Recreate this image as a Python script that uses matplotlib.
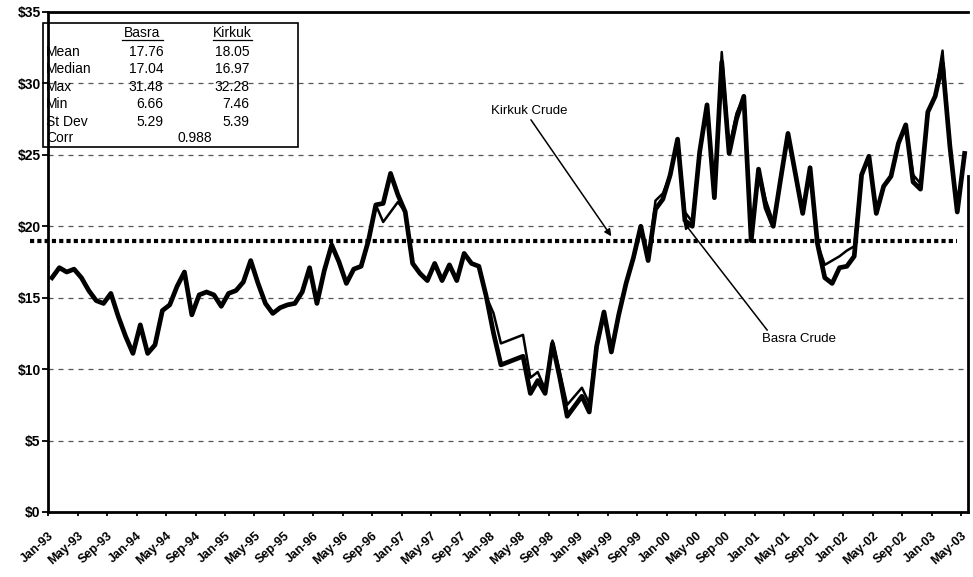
import matplotlib
matplotlib.use('Agg')
import matplotlib.pyplot as plt
from matplotlib.patches import Rectangle
from matplotlib.lines import Line2D

plt.rcParams['font.family'] = ['Liberation Sans', 'DejaVu Sans']

# ---------------- data (monthly, Jan-93 .. May-03) ----------------
kirkuk = [16.4, 17.1, 16.8, 17.0, 16.4, 15.5, 14.8, 14.6, 15.3, 13.7,
          12.3, 11.1, 13.1, 11.1, 11.7, 14.1, 14.5, 15.8, 16.8, 13.8,
          15.2, 15.4, 15.2, 14.4, 15.3, 15.5, 16.1, 17.6, 16.0, 14.6,
          13.9, 14.3, 14.5, 14.6, 15.4, 17.1, 14.6, 16.9, 18.7, 17.5,
          16.0, 17.0, 17.2, 19.0, 21.5, 20.3, 21.0, 21.7, 21.0, 17.4,
          16.7, 16.2, 17.4, 16.2, 17.3, 16.2, 18.1, 17.4, 17.2, 15.1,
          13.9, 11.8, 12.0, 12.2, 12.4, 9.4, 9.8, 8.6, 12.0, 9.8,
          7.5, 8.1, 8.7, 7.6, 11.8, 14.0, 11.2, 13.8, 16.0, 17.8,
          20.0, 17.6, 21.8, 22.3, 23.6, 26.1, 21.0, 20.3, 25.2, 28.5,
          22.0, 32.2, 25.5, 27.9, 29.1, 19.0, 24.0, 21.8, 20.3, 23.3,
          26.5, 23.7, 20.9, 24.1, 18.8, 17.3, 17.6, 17.9, 18.3, 18.6,
          23.6, 24.9, 20.9, 22.8, 23.5, 25.8, 27.1, 23.6, 23.0, 28.0,
          29.1, 32.3, 25.6, 21.0, 25.1]
basra = [16.4, 17.1, 16.8, 17.0, 16.4, 15.5, 14.8, 14.6, 15.3, 13.7,
         12.3, 11.1, 13.1, 11.1, 11.7, 14.1, 14.5, 15.8, 16.8, 13.8,
         15.2, 15.4, 15.2, 14.4, 15.3, 15.5, 16.1, 17.6, 16.0, 14.6,
         13.9, 14.3, 14.5, 14.6, 15.4, 17.1, 14.6, 16.9, 18.7, 17.5,
         16.0, 17.0, 17.2, 19.0, 21.5, 21.6, 23.7, 22.2, 21.0, 17.4,
         16.7, 16.2, 17.4, 16.2, 17.3, 16.2, 18.1, 17.4, 17.2, 15.1,
         12.5, 10.3, 10.5, 10.7, 10.9, 8.3, 9.2, 8.3, 11.8, 9.4,
         6.7, 7.4, 8.1, 7.0, 11.6, 14.0, 11.2, 13.8, 16.0, 17.8,
         20.0, 17.6, 21.2, 21.9, 23.6, 26.1, 20.4, 20.0, 25.2, 28.5,
         22.0, 31.5, 25.1, 27.5, 29.1, 19.0, 24.0, 21.3, 20.0, 23.3,
         26.5, 23.7, 20.9, 24.1, 18.8, 16.4, 16.0, 17.1, 17.2, 17.9,
         23.6, 24.9, 20.9, 22.8, 23.5, 25.8, 27.1, 23.1, 22.6, 28.0,
         29.1, 31.4, 25.6, 21.0, 25.1]
ref_level = 19.0

x_tick_labels = ['Jan-93', 'May-93', 'Sep-93', 'Jan-94', 'May-94', 'Sep-94',
                 'Jan-95', 'May-95', 'Sep-95', 'Jan-96', 'May-96', 'Sep-96',
                 'Jan-97', 'May-97', 'Sep-97', 'Jan-98', 'May-98', 'Sep-98',
                 'Jan-99', 'May-99', 'Sep-99', 'Jan-00', 'May-00', 'Sep-00',
                 'Jan-01', 'May-01', 'Sep-01', 'Jan-02', 'May-02', 'Sep-02',
                 'Jan-03', 'May-03']
y_ticks = [0, 5, 10, 15, 20, 25, 30, 35]
y_tick_labels = ['\\$0', '\\$5', '\\$10', '\\$15', '\\$20', '\\$25', '\\$30', '\\$35']

stat_names = ['Mean', 'Median', 'Max', 'Min', 'St Dev']
basra_stats = ['17.76', '17.04', '31.48', '6.66', '5.29']
kirkuk_stats = ['18.05', '16.97', '32.28', '7.46', '5.39']
corr_value = '0.988'

# ---------------- figure ----------------
W, H = 973, 577
fig = plt.figure(figsize=(W / 100, H / 100), dpi=100)
fig.patch.set_facecolor('white')


def px(x, y):
    return (x / W, 1 - y / H)


ax = fig.add_axes([48.3 / W, 1 - 512 / H, 920 / W, 500 / H])
n = len(kirkuk)
xs = list(range(n))
ax.set_xlim(-0.5, n - 0.5)
ax.set_ylim(0, 35)

# gridlines
for yv in y_ticks[1:-1]:
    ax.axhline(yv, color='#555555', lw=0.9, dashes=(4, 4), zorder=1)

# reference dotted level
ax.plot([-3, 123], [ref_level, ref_level], color='black', lw=3.0,
        dashes=(1.0, 0.75), dash_capstyle='butt', clip_on=False, zorder=2)

# series
ax.plot(xs, basra, color='black', lw=3.4, solid_joinstyle='round', zorder=3)
ax.plot(xs, kirkuk, color='black', lw=1.8, solid_joinstyle='round', zorder=4)

# axes styling
for side in ['left', 'bottom', 'top', 'right']:
    ax.spines[side].set_linewidth(2.0)
    ax.spines[side].set_color('black')
ax.spines['right'].set_bounds(0, 23.5)

ax.set_yticks(y_ticks)
ax.set_yticklabels(y_tick_labels, fontsize=10, fontweight='bold')
ax.tick_params(axis='y', direction='out', length=4, width=1.3, pad=1.5)

tick_pos = [4 * k - 0.5 for k in range(len(x_tick_labels))]
ax.set_xticks(tick_pos)
ax.set_xticklabels(x_tick_labels, fontsize=9, fontweight='bold',
                   rotation=42, ha='right', rotation_mode='anchor')
ax.tick_params(axis='x', direction='out', length=3, width=1.3, pad=10)

# ---------------- statistics table ----------------
fig.add_artist(Rectangle(px(43, 147), 255 / W, 124 / H, fill=False,
                         edgecolor='black', lw=1.2, transform=fig.transFigure,
                         zorder=10))
fs = 10
fig.text(*px(142, 33), 'Basra', ha='center', va='center', fontsize=fs)
fig.text(*px(232.5, 33), 'Kirkuk', ha='center', va='center', fontsize=fs)
for (x0, x1) in [(121.7, 163.3), (213, 252)]:
    fig.add_artist(Line2D([x0 / W, x1 / W], [1 - 40 / H, 1 - 40 / H],
                          color='black', lw=0.9, transform=fig.transFigure))
row_y = [51.7, 69.0, 86.8, 104.3, 121.7]
for yy, name, b, k in zip(row_y, stat_names, basra_stats, kirkuk_stats):
    fig.text(*px(46, yy), name, ha='left', va='center', fontsize=fs)
    fig.text(*px(163.3, yy), b, ha='right', va='center', fontsize=fs)
    fig.text(*px(249.3, yy), k, ha='right', va='center', fontsize=fs)
fig.text(*px(46, 138.3), 'Corr', ha='left', va='center', fontsize=fs)
fig.text(*px(195, 138.3), corr_value, ha='center', va='center', fontsize=fs)

# ---------------- annotations ----------------
arrow = dict(arrowstyle='-|>', color='black', lw=1.1, mutation_scale=10,
             shrinkA=0, shrinkB=0)
ax.annotate('Kirkuk Crude', xy=(76, 19.3), xycoords='data',
            xytext=px(529, 111), textcoords='figure fraction',
            ha='center', va='center', fontsize=9.5,
            arrowprops=dict(arrow, relpos=(0.5, 0.0)))
ax.annotate('Basra Crude', xy=(85.8, 20.3), xycoords='data',
            xytext=px(799, 339), textcoords='figure fraction',
            ha='center', va='center', fontsize=9.5,
            arrowprops=dict(arrow, relpos=(0.1, 1.0)))

fig.savefig('out.png', dpi=100, facecolor='white')
